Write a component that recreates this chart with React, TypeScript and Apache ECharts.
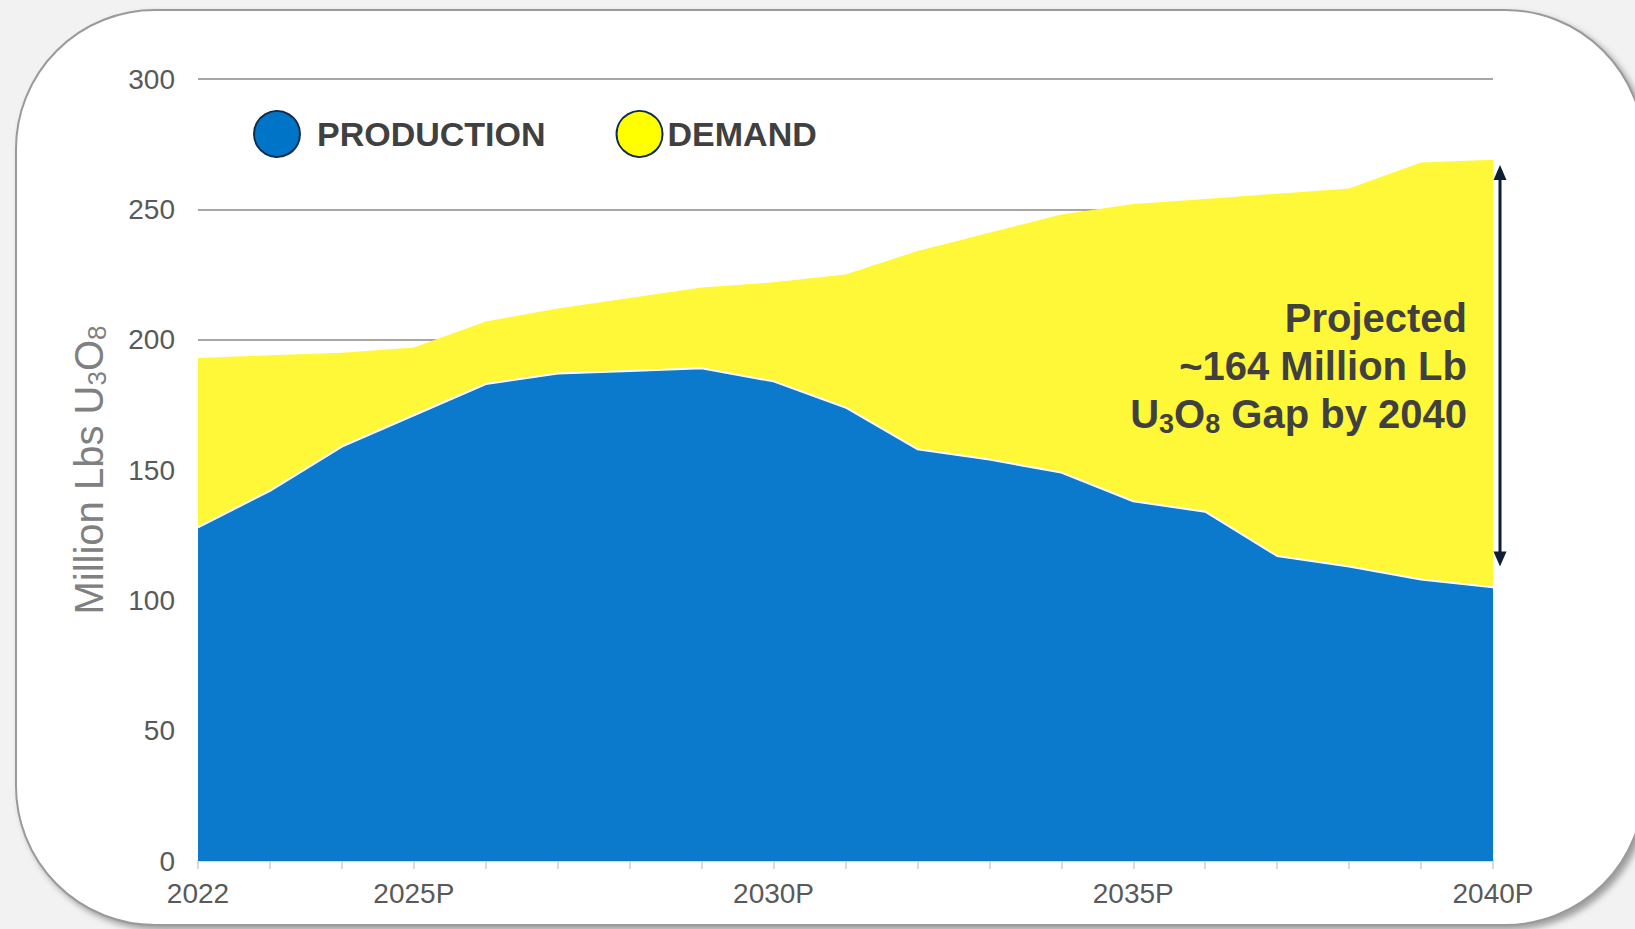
import React, { useEffect, useRef } from 'react';
import * as echarts from 'echarts';

const YEARS = [
  '2022', '2023', '2024', '2025P', '2026P', '2027P', '2028P', '2029P', '2030P', '2031P',
  '2032P', '2033P', '2034P', '2035P', '2036P', '2037P', '2038P', '2039P', '2040P',
];
const PRODUCTION = [128, 142, 159, 171, 183, 187, 188, 189, 184, 174, 158, 154, 149, 138, 134, 117, 113, 108, 105];
const DEMAND = [193, 194, 195, 197, 207, 212, 216, 220, 222, 225, 234, 241, 248, 252, 254, 256, 258, 268, 269];
const SHOWN_X_LABELS = [0, 3, 8, 13, 18];
const Y_MIN = 0;
const Y_MAX = 300;
const Y_INTERVAL = 50;
const GAP_ARROW_TOP = 267;
const GAP_ARROW_BOTTOM = 113;

const FONT = '"Liberation Sans", Arial, Helvetica, sans-serif';

export default function App() {
  const ref = useRef<HTMLDivElement>(null);

  useEffect(() => {
    if (!ref.current) return;
    const chart = echarts.init(ref.current, null, { renderer: 'svg' });
    const option: any = {
      animation: false,
      backgroundColor: 'transparent',
      textStyle: { fontFamily: FONT },
      grid: { left: 198, right: 142, top: 79, bottom: 68, containLabel: false },
      legend: {
        left: 248,
        top: 105,
        orient: 'horizontal',
        itemWidth: 46,
        itemHeight: 46,
        itemGap: 70,
        itemTextGap: 7,
        selectedMode: false,
        textStyle: { fontFamily: FONT, fontSize: 34, fontWeight: 'bold', color: '#404040' },
        data: [
          {
            name: 'PRODUCTION',
            icon: 'circle',
            itemStyle: { color: '#0074C6', borderColor: '#102C4C', borderWidth: 2 },
            textStyle: { padding: [0, 0, 0, 12] },
          },
          {
            name: 'DEMAND',
            icon: 'circle',
            itemStyle: { color: '#FFFF00', borderColor: '#102C4C', borderWidth: 2 },
          },
        ],
      },
      xAxis: {
        type: 'category',
        data: YEARS,
        boundaryGap: false,
        axisLine: { show: true, lineStyle: { color: '#D9D9D9', width: 2 } },
        axisTick: { show: true, interval: 0, length: 8, lineStyle: { color: '#D9D9D9', width: 2 } },
        axisLabel: {
          interval: (index: number) => SHOWN_X_LABELS.includes(index),
          fontFamily: FONT,
          fontSize: 28,
          color: '#595959',
          margin: 18,
        },
        splitLine: { show: false },
      },
      yAxis: {
        type: 'value',
        min: Y_MIN,
        max: Y_MAX,
        interval: Y_INTERVAL,
        axisLine: { show: false },
        axisTick: { show: false },
        axisLabel: { fontFamily: FONT, fontSize: 28, color: '#595959', margin: 23 },
        splitLine: { show: true, lineStyle: { color: '#A6A6A6', width: 2 } },
        name: '{n|Million Lbs U}{s|3}{n|O}{s|8}',
        nameLocation: 'middle',
        nameRotate: 90,
        nameGap: 88,
        nameTextStyle: {
          fontFamily: FONT,
          fontSize: 40,
          color: '#808080',
          rich: {
            n: { fontFamily: FONT, fontSize: 40, color: '#808080' },
            s: { fontFamily: FONT, fontSize: 26, color: '#808080', padding: [17, 0, 0, 0] },
          },
        },
      },
      series: [
        {
          name: 'DEMAND',
          type: 'line',
          data: DEMAND,
          symbol: 'none',
          showSymbol: false,
          color: '#FFF839',
          lineStyle: { width: 0, color: '#FFF839' },
          areaStyle: { color: '#FFF839', opacity: 1 },
          z: 2,
        },
        {
          name: 'PRODUCTION',
          type: 'line',
          data: PRODUCTION,
          symbol: 'none',
          showSymbol: false,
          color: '#0C7ACC',
          lineStyle: { width: 2, color: '#FFFFFF' },
          areaStyle: { color: '#0C7ACC', opacity: 1 },
          z: 3,
        },
      ],
    };
    chart.setOption(option);

    const last = YEARS.length - 1;
    const pTop = chart.convertToPixel({ gridIndex: 0 }, [last, GAP_ARROW_TOP]) as number[];
    const pBot = chart.convertToPixel({ gridIndex: 0 }, [last, GAP_ARROW_BOTTOM]) as number[];
    const ax = pTop[0] + 7;
    const yT = pTop[1];
    const yB = pBot[1];
    const head = 15;
    const half = 6.5;
    const arrowColor = '#0D1F33';

    chart.setOption({
      graphic: [
        {
          id: 'shaft',
          type: 'line',
          z: 100,
          shape: { x1: ax, y1: yT + head - 1, x2: ax, y2: yB - head + 1 },
          style: { stroke: arrowColor, lineWidth: 3 },
        },
        {
          id: 'headTop',
          type: 'polygon',
          z: 100,
          shape: { points: [[ax, yT], [ax - half, yT + head], [ax + half, yT + head]] },
          style: { fill: arrowColor },
        },
        {
          id: 'headBot',
          type: 'polygon',
          z: 100,
          shape: { points: [[ax, yB], [ax - half, yB - head], [ax + half, yB - head]] },
          style: { fill: arrowColor },
        },
        {
          id: 'note',
          type: 'text',
          z: 100,
          x: ax - 33,
          y: 294,
          style: {
            text: 'Projected\n~164 Million Lb\n{n|U}{s|3}{n|O}{s|8}{n| Gap by 2040}',
            fill: '#404040',
            fontFamily: FONT,
            fontSize: 40,
            fontWeight: 'bold',
            lineHeight: 48,
            align: 'right',
            verticalAlign: 'top',
            rich: {
              n: { fontFamily: FONT, fontSize: 40, fontWeight: 'bold', fill: '#404040', lineHeight: 48 },
              s: { fontFamily: FONT, fontSize: 27, fontWeight: 'bold', fill: '#404040', lineHeight: 48, padding: [20, 0, 0, 0] },
            },
          },
        },
      ],
    });

    return () => chart.dispose();
  }, []);

  return (
    <div style={{ position: 'fixed', left: 0, top: 0, width: 1635, height: 929, background: '#F2F2F2', overflow: 'hidden' }}>
      <div
        style={{
          position: 'absolute',
          left: 15,
          top: 9,
          width: 1630,
          height: 917,
          boxSizing: 'border-box',
          background: '#FFFFFF',
          border: '2px solid #9A9A9A',
          borderRadius: 140,
          boxShadow: '4px 4px 6px rgba(0,0,0,0.35)',
        }}
      />
      <div ref={ref} style={{ position: 'absolute', left: 0, top: 0, width: 1635, height: 929 }} />
    </div>
  );
}
